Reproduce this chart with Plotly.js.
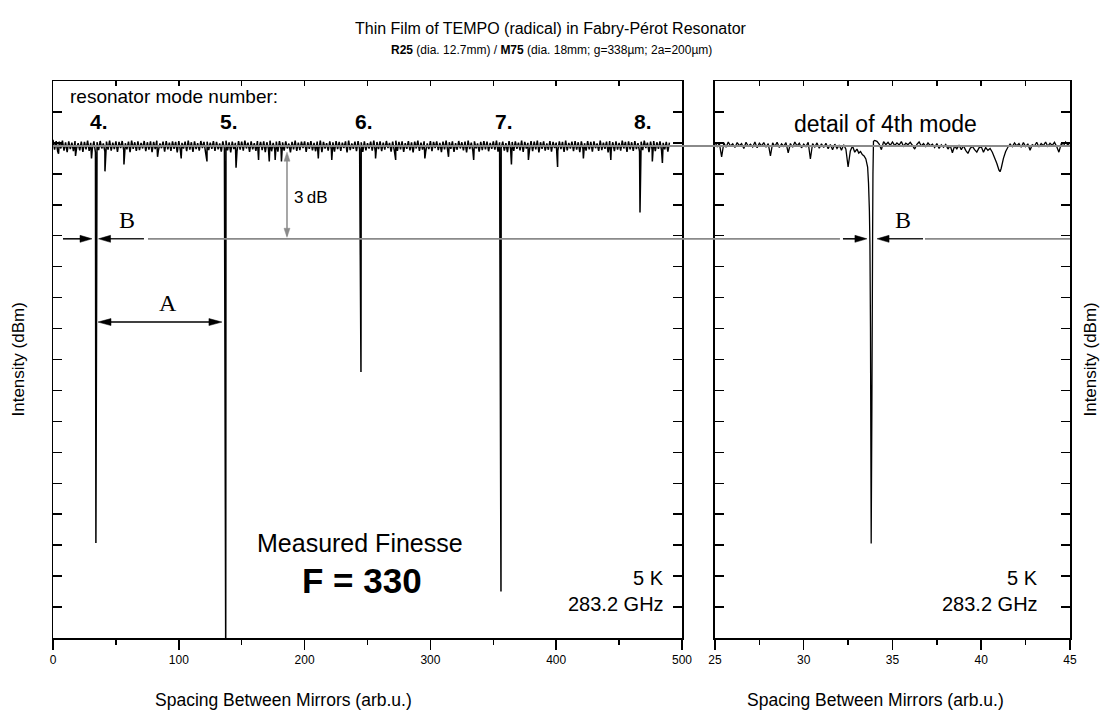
<!DOCTYPE html>
<html><head><meta charset="utf-8">
<script src="https://cdn.plot.ly/plotly-3.0.1.min.js"></script>
<style>html,body{margin:0;padding:0;background:#fff}#chart{width:1103px;height:713px}</style>
</head><body><div id="chart"></div>
<script>
// ---------------- DATA ----------------
// Left panel: baseline noise of the full scan (x in arb.u., y in dBm)
const leftNoiseX = [
  0,1.25,2.5,3.75,5,6.25,7.5,8.75,10,11.25,12.5,13.75,15,16.25,17.5,18.75,20,21.25,22.5,23.75,
  25,26.25,27.5,28.75,30,31.25,32.5,33.75,35,36.25,37.5,38.75,40,41.25,42.5,43.75,45,46.25,47.5,48.75,
  50,51.25,52.5,53.75,55,56.25,57.5,58.75,60,61.25,62.5,63.75,65,66.25,67.5,68.75,70,71.25,72.5,73.75,
  75,76.25,77.5,78.75,80,81.25,82.5,83.75,85,86.25,87.5,88.75,90,91.25,92.5,93.75,95,96.25,97.5,98.75,
  100,101.25,102.5,103.75,105,106.25,107.5,108.75,110,111.25,112.5,113.75,115,116.25,117.5,118.75,120,121.25,122.5,123.75,
  125,126.25,127.5,128.75,130,131.25,132.5,133.75,135,136.25,137.5,138.75,140,141.25,142.5,143.75,145,146.25,147.5,148.75,
  150,151.25,152.5,153.75,155,156.25,157.5,158.75,160,161.25,162.5,163.75,165,166.25,167.5,168.75,170,171.25,172.5,173.75,
  175,176.25,177.5,178.75,180,181.25,182.5,183.75,185,186.25,187.5,188.75,190,191.25,192.5,193.75,195,196.25,197.5,198.75,
  200,201.25,202.5,203.75,205,206.25,207.5,208.75,210,211.25,212.5,213.75,215,216.25,217.5,218.75,220,221.25,222.5,223.75,
  225,226.25,227.5,228.75,230,231.25,232.5,233.75,235,236.25,237.5,238.75,240,241.25,242.5,243.75,245,246.25,247.5,248.75,
  250,251.25,252.5,253.75,255,256.25,257.5,258.75,260,261.25,262.5,263.75,265,266.25,267.5,268.75,270,271.25,272.5,273.75,
  275,276.25,277.5,278.75,280,281.25,282.5,283.75,285,286.25,287.5,288.75,290,291.25,292.5,293.75,295,296.25,297.5,298.75,
  300,301.25,302.5,303.75,305,306.25,307.5,308.75,310,311.25,312.5,313.75,315,316.25,317.5,318.75,320,321.25,322.5,323.75,
  325,326.25,327.5,328.75,330,331.25,332.5,333.75,335,336.25,337.5,338.75,340,341.25,342.5,343.75,345,346.25,347.5,348.75,
  350,351.25,352.5,353.75,355,356.25,357.5,358.75,360,361.25,362.5,363.75,365,366.25,367.5,368.75,370,371.25,372.5,373.75,
  375,376.25,377.5,378.75,380,381.25,382.5,383.75,385,386.25,387.5,388.75,390,391.25,392.5,393.75,395,396.25,397.5,398.75,
  400,401.25,402.5,403.75,405,406.25,407.5,408.75,410,411.25,412.5,413.75,415,416.25,417.5,418.75,420,421.25,422.5,423.75,
  425,426.25,427.5,428.75,430,431.25,432.5,433.75,435,436.25,437.5,438.75,440,441.25,442.5,443.75,445,446.25,447.5,448.75,
  450,451.25,452.5,453.75,455,456.25,457.5,458.75,460,461.25,462.5,463.75,465,466.25,467.5,468.75,470,471.25,472.5,473.75,
  475,476.25,477.5,478.75,480,481.25,482.5,483.75,485,486.25,487.5,488.75,490
];
const leftNoiseY = [
  -23.90,-24.22,-23.94,-24.28,-23.96,-24.18,-23.93,-24.25,-23.98,-24.30,-23.95,-24.20,-23.99,-24.27,-23.94,-24.17,-24.01,-24.24,-23.96,-24.29,
  -23.97,-24.21,-23.93,-24.26,-24.00,-24.19,-23.95,-24.31,-23.98,-24.23,-23.94,-24.18,-24.02,-24.28,-23.96,-24.22,-23.93,-24.25,-23.99,-24.20,
  -23.95,-24.29,-23.97,-24.17,-23.94,-24.24,-24.01,-24.21,-23.96,-24.30,-23.93,-24.19,-23.98,-24.26,-23.95,-24.23,-24.00,-24.18,-23.94,-24.27,
  -23.98,-24.22,-23.95,-24.30,-23.97,-24.20,-23.93,-24.25,-24.02,-24.17,-23.96,-24.28,-23.94,-24.21,-23.99,-24.26,-23.95,-24.19,-23.97,-24.31,
  -23.94,-24.24,-24.00,-24.18,-23.96,-24.27,-23.93,-24.22,-23.98,-24.29,-23.95,-24.20,-24.01,-24.25,-23.94,-24.17,-23.97,-24.30,-23.96,-24.23,
  -23.99,-24.19,-23.94,-24.26,-23.97,-24.21,-24.02,-24.28,-23.95,-24.18,-23.93,-24.24,-23.98,-24.31,-23.96,-24.20,-24.00,-24.27,-23.94,-24.22,
  -23.96,-24.25,-23.93,-24.18,-23.99,-24.29,-23.95,-24.21,-24.01,-24.26,-23.94,-24.17,-23.97,-24.23,-23.95,-24.30,-23.98,-24.19,-23.93,-24.27,
  -24.00,-24.22,-23.96,-24.28,-23.94,-24.20,-23.98,-24.25,-23.95,-24.18,-24.02,-24.31,-23.97,-24.21,-23.93,-24.26,-23.99,-24.23,-23.96,-24.17,
  -23.95,-24.29,-23.98,-24.19,-23.94,-24.24,-24.00,-24.27,-23.96,-24.21,-23.93,-24.30,-23.97,-24.18,-24.01,-24.25,-23.95,-24.22,-23.98,-24.28,
  -23.94,-24.20,-23.97,-24.26,-23.99,-24.17,-23.95,-24.31,-23.93,-24.23,-24.02,-24.19,-23.96,-24.27,-23.94,-24.21,-23.98,-24.29,-23.95,-24.24,
  -24.01,-24.18,-23.96,-24.25,-23.93,-24.30,-23.97,-24.20,-23.95,-24.27,-23.99,-24.22,-23.94,-24.17,-24.00,-24.28,-23.96,-24.23,-23.93,-24.26,
  -23.97,-24.21,-23.95,-24.29,-24.01,-24.19,-23.94,-24.24,-23.98,-24.31,-23.96,-24.18,-23.93,-24.26,-23.99,-24.22,-23.95,-24.28,-24.02,-24.20,
  -23.94,-24.27,-23.97,-24.17,-23.95,-24.23,-24.00,-24.30,-23.96,-24.21,-23.93,-24.25,-23.98,-24.19,-23.95,-24.29,-24.01,-24.22,-23.94,-24.18,
  -23.98,-24.24,-23.96,-24.31,-23.93,-24.20,-23.99,-24.26,-23.95,-24.18,-24.02,-24.28,-23.97,-24.23,-23.94,-24.21,-23.96,-24.27,-24.00,-24.19,
  -23.95,-24.22,-23.93,-24.28,-23.98,-24.17,-23.96,-24.25,-24.01,-24.30,-23.94,-24.20,-23.97,-24.26,-23.95,-24.19,-23.99,-24.24,-23.93,-24.29,
  -23.97,-24.18,-24.00,-24.23,-23.94,-24.27,-23.96,-24.21,-23.93,-24.31,-23.98,-24.19,-23.95,-24.25,-24.02,-24.22,-23.94,-24.28,-23.97,-24.17,
  -23.99,-24.26,-23.95,-24.20,-23.97,-24.29,-23.93,-24.24,-24.00,-24.18,-23.96,-24.27,-23.94,-24.22,-23.98,-24.30,-23.95,-24.19,-24.01,-24.25,
  -23.94,-24.21,-23.97,-24.28,-23.95,-24.17,-24.02,-24.26,-23.93,-24.23,-23.99,-24.19,-23.96,-24.31,-23.94,-24.20,-23.98,-24.27,-23.95,-24.22,
  -24.00,-24.25,-23.93,-24.18,-23.97,-24.29,-23.95,-24.21,-23.98,-24.26,-23.94,-24.20,-24.01,-24.28,-23.96,-24.23,-23.93,-24.17,-23.99,-24.30,
  -23.96,-24.22,-23.94,-24.27,-23.98,-24.19,-23.95,-24.25,-24.00,-24.21,-23.97,-24.28,-23.99
];
// Left panel: isolated downward noise spikes
const leftSpikeX = [4.4,17.9,30.6,41.3,56.4,83.1,101.9,122.4,145.5,163.4,171.9,176.6,181.6,210.9,221.6,256.4,272.4,295.6,314.4,334.4,364.4,377.9,401.1,421.6,443.4,476.4,484.4];
const leftSpikeY = [-24.35,-24.42,-24.5,-24.92,-24.7,-24.45,-24.5,-24.6,-24.8,-24.55,-24.6,-24.55,-24.6,-24.5,-24.55,-24.5,-24.55,-24.5,-24.45,-24.55,-24.7,-24.55,-24.78,-24.5,-24.55,-24.6,-24.65];
// Left panel: resonator modes (position and dip minimum)
const modeLabels = ['4.','5.','6.','7.','8.'];
const modeX = [34.1,137.3,244.8,356.1,466.6];
const modeDepth = [-36.93,-40.5,-31.4,-38.5,-26.25];

// Right panel: detail scan of the 4th mode
const rightX = [
  25,25.125,25.25,25.375,25.5,25.625,25.75,25.875,
  26,26.125,26.25,26.375,26.5,26.625,26.75,26.875,
  27,27.125,27.25,27.375,27.5,27.625,27.75,27.875,
  28,28.125,28.25,28.375,28.5,28.625,28.75,28.875,
  29,29.125,29.25,29.375,29.5,29.625,29.75,29.875,
  30,30.125,30.25,30.375,30.5,30.625,30.75,30.875,
  31,31.125,31.25,31.375,31.5,31.625,31.75,31.875,
  32,32.125,32.25,32.375,32.5,32.625,32.75,32.875,
  33,33.1,33.2,33.3,33.4,33.5,33.6,33.65,33.7,33.73,33.76,33.78,33.8,33.84,33.88,33.9,33.93,34,
  34.125,34.25,34.375,34.5,34.625,34.75,34.875,
  35,35.125,35.25,35.375,35.5,35.625,35.75,35.875,
  36,36.125,36.25,36.375,36.5,36.625,36.75,36.875,
  37,37.125,37.25,37.375,37.5,37.625,37.75,37.875,
  38,38.125,38.25,38.375,38.5,38.625,38.75,38.875,
  39,39.125,39.25,39.375,39.5,39.625,39.75,39.875,
  40,40.125,40.25,40.375,40.5,
  40.625,40.75,40.875,41,41.06,41.125,41.25,41.375,41.5,
  41.625,41.75,41.875,
  42,42.125,42.25,42.375,42.5,42.625,42.75,42.875,
  43,43.125,43.25,43.375,43.5,43.625,43.75,43.875,
  44,44.125,44.25,44.375,44.5,44.625,44.75,44.875,
  45
];
const rightY = [
  -23.98,-24.12,-24.02,-24.45,-24.00,-24.14,-23.97,-24.10,
  -24.03,-24.15,-23.99,-24.09,-24.02,-24.18,-23.98,-24.11,
  -24.04,-24.13,-23.97,-24.16,-24.01,-24.10,-23.99,-24.14,
  -24.02,-24.42,-24.00,-24.12,-23.98,-24.15,-24.03,-24.11,
  -23.99,-24.32,-24.02,-24.14,-23.97,-24.10,-24.01,-24.16,
  -24.04,-24.12,-23.98,-24.52,-24.02,-24.13,-24.00,-24.17,
  -24.03,-24.15,-24.01,-24.19,-24.05,-24.22,-24.04,-24.18,
  -24.07,-24.24,-24.06,-24.20,-24.78,-24.26,-24.10,-24.30,
  -24.20,-24.33,-24.28,-24.38,-24.42,-24.52,-24.78,-25.3,-26.2,-27.3,-30.0,-33.5,-36.95,-32.5,-27.0,-25.0,-23.95,-23.92,
  -23.95,-24.04,-24.22,-23.96,-24.06,-23.98,-24.08,
  -23.97,-24.09,-24.00,-24.07,-23.96,-24.11,-24.01,-24.06,
  -23.98,-24.08,-24.20,-24.05,-23.97,-24.10,-24.02,-24.12,
  -24.00,-24.09,-24.04,-24.15,-24.02,-24.18,-24.06,-24.14,
  -24.05,-24.20,-24.08,-24.32,-24.10,-24.19,-24.07,-24.22,
  -24.09,-24.24,-24.34,-24.18,-24.11,-24.22,-24.30,-24.16,
  -24.12,-24.30,-24.15,-24.24,-24.18,
  -24.30,-24.48,-24.66,-24.88,-24.93,-24.82,-24.50,-24.28,-24.14,
  -24.04,-24.12,-24.00,
  -24.10,-24.02,-24.14,-23.99,-24.12,-24.03,-24.24,-24.06,
  -24.10,-23.98,-24.13,-24.02,-24.09,-23.97,-24.11,-24.01,
  -24.08,-23.98,-24.12,-24.30,-24.04,-24.10,-23.97,-24.07,
  -24.00
];
// Reference levels
const baselineLevel = -24.1;   // off-resonance level (gray line)
const halfLevel = -27.1;       // 3 dB below baseline
const finesseText = 'F = 330';
const tempText = '5 K';
const freqText = '283.2 GHz';

// ---------------- BUILD ----------------
const pts = [];
leftNoiseX.forEach((x,i)=>pts.push([x,leftNoiseY[i]]));
leftSpikeX.forEach((x,i)=>pts.push([x,leftSpikeY[i]]));
modeX.forEach((x,i)=>pts.push([x,modeDepth[i]]));
pts.sort((a,b)=>a[0]-b[0]);
const lx = pts.map(p=>p[0]), ly = pts.map(p=>p[1]);

const FONT = 'Liberation Sans, Arial, Helvetica, sans-serif';
const SERIF = 'Liberation Serif, DejaVu Serif, serif';
const GRAY = '#8a8a8a';
const yRange = [-40,-22];
const P = v => (v - yRange[0])/(yRange[1]-yRange[0]);

const traces = [
  {x:lx, y:ly, type:'scatter', mode:'lines', line:{color:'#000', width:1.5, simplify:false}, xaxis:'x', yaxis:'y', hoverinfo:'skip', showlegend:false},
  {x:rightX, y:rightY, type:'scatter', mode:'lines', line:{color:'#000', width:1.3, simplify:false}, xaxis:'x2', yaxis:'y2', hoverinfo:'skip', showlegend:false},
  {x:[], y:[], type:'scatter', mode:'lines', xaxis:'x3', yaxis:'y', showlegend:false},
  {x:[], y:[], type:'scatter', mode:'lines', xaxis:'x4', yaxis:'y2', showlegend:false}
];

function yax(anchor){
  return {anchor, domain:[0,1], range:yRange, showticklabels:false, ticks:'inside', tick0:-40, dtick:5, ticklen:9, tickwidth:1.5, tickcolor:'#000',
    minor:{ticks:'inside', dtick:1, ticklen:5, tickwidth:1.5, tickcolor:'#000', showgrid:false},
    showline:true, linecolor:'#000', linewidth:1.5, mirror:'allticks', showgrid:false, zeroline:false};
}
function xax(anchor, domain, range, dtick, mdtick){
  return {anchor, domain, range, tick0:range[0], dtick, ticks:'outside', ticklen:10, tickwidth:1.5, tickcolor:'#000',
    minor:{ticks:'outside', dtick:mdtick, ticklen:5, tickwidth:1.5, tickcolor:'#000', showgrid:false},
    tickfont:{family:FONT, size:12, color:'#000'},
    showline:true, linecolor:'#000', linewidth:1.5, mirror:true, showgrid:false, zeroline:false};
}
function topax(over, anchor, range, dtick){
  return {overlaying:over, anchor, side:'top', range, tick0:range[0], dtick, ticks:'inside', ticklen:5, tickwidth:1.5, tickcolor:'#000',
    showticklabels:false, showline:false, showgrid:false, zeroline:false};
}

function head(xref, yref, x, y, dir, len, hw, color){
  let p;
  if(dir==='r') p = `M0,0L${-len},${hw}L${-len},${-hw}Z`;
  if(dir==='l') p = `M0,0L${len},${hw}L${len},${-hw}Z`;
  if(dir==='u') p = `M0,0L${hw},${-len}L${-hw},${-len}Z`;
  if(dir==='d') p = `M0,0L${hw},${len}L${-hw},${len}Z`;
  return {type:'path', xref, yref, xsizemode:'pixel', ysizemode:'pixel', xanchor:x, yanchor:y, path:p, fillcolor:color, line:{color, width:0.5}};
}
function seg(xref, yref, x0, y0, x1, y1, color, w){
  return {type:'line', xref, yref, x0, y0, x1, y1, line:{color, width:w}};
}

const shapes = [
  seg('paper','paper', 0, P(baselineLevel), 1, P(baselineLevel), GRAY, 1.8),
  seg('paper','paper', 0.0934, P(halfLevel), 0.7738, P(halfLevel), GRAY, 1.8),
  seg('paper','paper', 0.8574, P(halfLevel), 1, P(halfLevel), GRAY, 1.8),
  seg('x','y', 7.95, halfLevel, 28, halfLevel, '#000', 1.5),
  head('x','y', 31.0, halfLevel, 'r', 12, 3.5, '#000'),
  seg('x','y', 40, halfLevel, 72.3, halfLevel, '#222', 1.5),
  head('x','y', 36.2, halfLevel, 'l', 12, 3.5, '#000'),
  seg('x2','y2', 32.21, halfLevel, 33.0, halfLevel, '#000', 1.5),
  head('x2','y2', 33.56, halfLevel, 'r', 12, 3.5, '#000'),
  seg('x2','y2', 34.6, halfLevel, 36.72, halfLevel, '#222', 1.5),
  head('x2','y2', 34.13, halfLevel, 'l', 12, 3.5, '#000'),
  seg('x','y', 40, -29.79, 130, -29.79, '#000', 1.5),
  head('x','y', 35.77, -29.79, 'l', 13, 3.5, '#000'),
  head('x','y', 134.3, -29.79, 'r', 13, 3.5, '#000'),
  seg('x','y', 186, baselineLevel-0.35, 186, halfLevel+0.1, GRAY, 1.5),
  head('x','y', 186, baselineLevel-0.2, 'u', 9, 3, GRAY),
  head('x','y', 186, halfLevel+0.05, 'd', 9, 3, GRAY)
];

const annotations = [
  {xref:'paper', yref:'paper', x:0.4897, y:1.095, xanchor:'center', yanchor:'middle', showarrow:false,
   text:'Thin Film of TEMPO (radical) in Fabry-Pérot Resonator', font:{family:FONT, size:16, color:'#000'}},
  {xref:'paper', yref:'paper', x:0.4897, y:1.0557, xanchor:'center', yanchor:'middle', showarrow:false,
   text:'<b>R25</b> (dia. 12.7mm) / <b>M75</b> (dia. 18mm; g=338µm; 2a=200µm)', font:{family:FONT, size:12, color:'#000'}},
  {xref:'paper', yref:'paper', x:-0.0344, y:0.5, textangle:-90, xanchor:'center', yanchor:'middle', showarrow:false,
   text:'Intensity (dBm)', font:{family:FONT, size:17, color:'#000'}},
  {xref:'paper', yref:'paper', x:1.0197, y:0.5, textangle:-90, xanchor:'center', yanchor:'middle', showarrow:false,
   text:'Intensity (dBm)', font:{family:FONT, size:17, color:'#000'}},
  {xref:'paper', yref:'paper', x:0.2271, y:-0.1113, xanchor:'center', yanchor:'middle', showarrow:false,
   text:'Spacing Between Mirrors (arb.u.)', font:{family:FONT, size:17.5, color:'#000'}},
  {xref:'paper', yref:'paper', x:0.8092, y:-0.1113, xanchor:'center', yanchor:'middle', showarrow:false,
   text:'Spacing Between Mirrors (arb.u.)', font:{family:FONT, size:17.5, color:'#000'}},
  {xref:'x', yref:'y', x:11.9, y:-22.51, xanchor:'left', yanchor:'middle', showarrow:false,
   text:'resonator mode number:', font:{family:FONT, size:19, color:'#000'}},
  {xref:'x2', yref:'y2', x:34.58, y:-23.39, xanchor:'center', yanchor:'middle', showarrow:false,
   text:'detail of 4th mode', font:{family:FONT, size:23, color:'#000'}},
  {xref:'x', yref:'y', x:58.8, y:-26.49, xanchor:'center', yanchor:'middle', showarrow:false,
   text:'B', font:{family:SERIF, size:24, color:'#000'}},
  {xref:'x2', yref:'y2', x:35.59, y:-26.49, xanchor:'center', yanchor:'middle', showarrow:false,
   text:'B', font:{family:SERIF, size:24, color:'#000'}},
  {xref:'x', yref:'y', x:91.4, y:-29.17, xanchor:'center', yanchor:'middle', showarrow:false,
   text:'A', font:{family:SERIF, size:24, color:'#000'}},
  {xref:'x', yref:'y', x:205, y:-25.75, xanchor:'center', yanchor:'middle', showarrow:false,
   text:'3\u2009dB', font:{family:FONT, size:17, color:'#000'}},
  {xref:'x', yref:'y', x:244, y:-36.93, xanchor:'center', yanchor:'middle', showarrow:false,
   text:'Measured Finesse', font:{family:FONT, size:25, color:'#000'}},
  {xref:'x', yref:'y', x:245.6, y:-38.13, xanchor:'center', yanchor:'middle', showarrow:false,
   text:'<b>'+finesseText+'</b>', font:{family:FONT, size:35, color:'#000'}},
  {xref:'x', yref:'y', x:487, y:-38.06, xanchor:'right', yanchor:'middle', showarrow:false,
   text:tempText, font:{family:FONT, size:20, color:'#000'}},
  {xref:'x', yref:'y', x:487, y:-38.9, xanchor:'right', yanchor:'middle', showarrow:false,
   text:freqText, font:{family:FONT, size:20, color:'#000'}},
  {xref:'x2', yref:'y2', x:43.3, y:-38.06, xanchor:'right', yanchor:'middle', showarrow:false,
   text:tempText, font:{family:FONT, size:20, color:'#000'}},
  {xref:'x2', yref:'y2', x:43.3, y:-38.9, xanchor:'right', yanchor:'middle', showarrow:false,
   text:freqText, font:{family:FONT, size:20, color:'#000'}}
];
modeX.forEach((x,i)=>annotations.push({xref:'x', yref:'y', x, y:-23.32, xanchor:'center', yanchor:'middle', xshift:3, showarrow:false,
  text:'<b>'+modeLabels[i]+'</b>', font:{family:FONT, size:21, color:'#000'}}));

const layout = {
  width:1103, height:713,
  margin:{l:53, r:33, t:81, b:75, pad:0},
  paper_bgcolor:'#fff', plot_bgcolor:'#fff',
  showlegend:false,
  font:{family:FONT, color:'#000'},
  xaxis: xax('y', [0,0.6185], [0,500], 100, 50),
  xaxis2: xax('y2', [0.6509,1], [25,45], 5, 2.5),
  xaxis3: topax('x','y',[0,500],50),
  xaxis4: topax('x2','y2',[25,45],2.5),
  yaxis: yax('x'),
  yaxis2: yax('x2'),
  shapes, annotations
};
Plotly.newPlot('chart', traces, layout, {displayModeBar:false, staticPlot:true});
</script>
</body></html>
